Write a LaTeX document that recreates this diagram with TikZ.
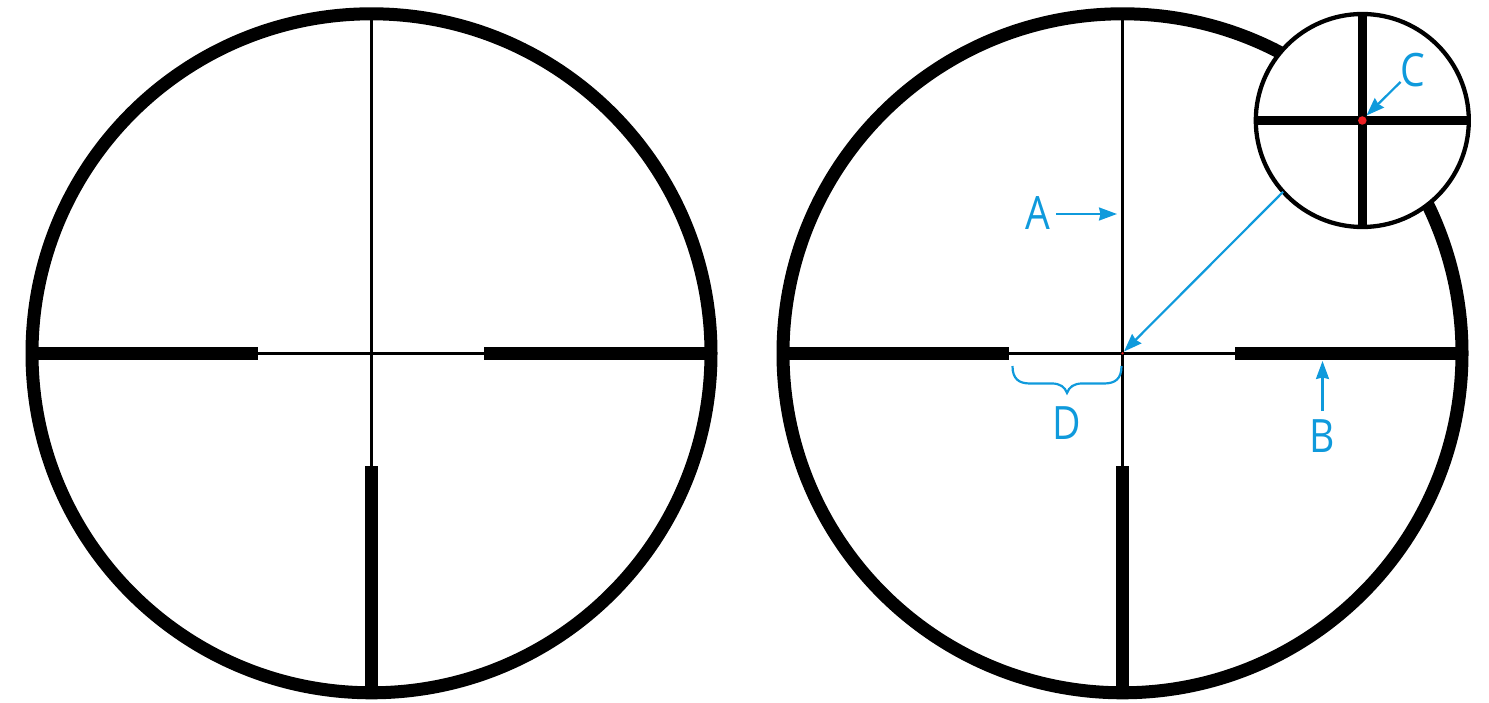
\documentclass[tikz,border=0pt]{standalone}
\usepackage{fontspec}
\setmainfont[FakeStretch=0.85]{Open Sans}
\usetikzlibrary{arrows.meta}
\definecolor{callout}{HTML}{0F9ADC}
\definecolor{reddot}{HTML}{ED2024}
\tikzset{
  ring/.style={circle,draw=black,line width=13pt,minimum size=679pt,inner sep=0pt,outer sep=0pt},
  inset/.style={circle,draw=black,fill=white,line width=4.3pt,minimum size=213pt,inner sep=0pt,outer sep=0pt},
  hair/.style={draw=black,line width=3.3pt},
  bar/.style={draw=black,line width=13.5pt},
  insetbar/.style={draw=black,line width=8.5pt},
  pointer/.style={draw=callout,line width=2.2pt,-{Stealth[length=18pt,width=13pt,inset=1.5pt]}},
  lbl/.style={text=callout,inner sep=0pt,outer sep=0pt,anchor=base,font=\fontsize{46}{46}\selectfont},
}
\begin{document}
\begin{tikzpicture}[x=1pt,y=-1pt]
\useasboundingbox (0,0) rectangle (1489,703);
% left reticle
\node[ring] (L) at (371.5,353.3) {};
\draw[hair] (371.5,18) -- (371.5,466);
\draw[hair] (258,353.3) -- (484,353.3);
\draw[bar] (38,353.3) -- (258,353.3);
\draw[bar] (484,353.3) -- (706,353.3);
\draw[bar] (371.5,466) -- (371.5,690);
% right reticle
\node[ring] (R) at (1122.5,353.3) {};
\draw[hair] (1122.5,18) -- (1122.5,466);
\draw[hair] (1009,353.3) -- (1235,353.3);
\draw[bar] (788,353.3) -- (1009,353.3);
\draw[bar] (1235,353.3) -- (1456,353.3);
\draw[bar] (1122.5,466) -- (1122.5,690);
\fill[reddot] (1122.5,353.3) circle (1.3pt);
% inset
\node[inset] (I) at (1362.3,120.5) {};
\draw[insetbar] (1362.3,16) -- (1362.3,225);
\draw[insetbar] (1257,120.5) -- (1467,120.5);
\node[circle,fill=reddot,inner sep=0pt,minimum size=8.5pt] (Idot) at (1362.3,120.5) {};
% labels and pointers
\node[lbl] (lA) at (1037.5,230) {A};
\node[lbl] (lB) at (1322.5,452) {B};
\node[lbl] (lC) at (1413,87) {C};
\node[lbl] (lD) at (1066.5,439) {D};
\coordinate (tA) at (1117,214);
\coordinate (tB) at (1322.5,361);
\coordinate (tC) at (1366.5,115.5);
\coordinate (tI) at (1124,351.5);
\coordinate (sA) at (1056,214);
\coordinate (sB) at (1322.5,411);
\coordinate (sC) at (1400.5,82);
\draw[pointer] (sA) -- (tA);
\draw[pointer] (sB) -- (tB);
\draw[pointer] (sC) -- (tC);
\draw[pointer] (I.222) -- (tI);
% brace
\draw[callout,line width=2.2pt] (1012.5,366) .. controls (1012.5,379) and (1019,383.5) .. (1030,383.5)
  -- (1052,383.5) .. controls (1060,383.5) and (1065,387) .. (1067,393)
  .. controls (1069,387) and (1074,383.5) .. (1082,383.5)
  -- (1104,383.5) .. controls (1115,383.5) and (1121.5,379) .. (1121.5,366);
\end{tikzpicture}
\end{document}
